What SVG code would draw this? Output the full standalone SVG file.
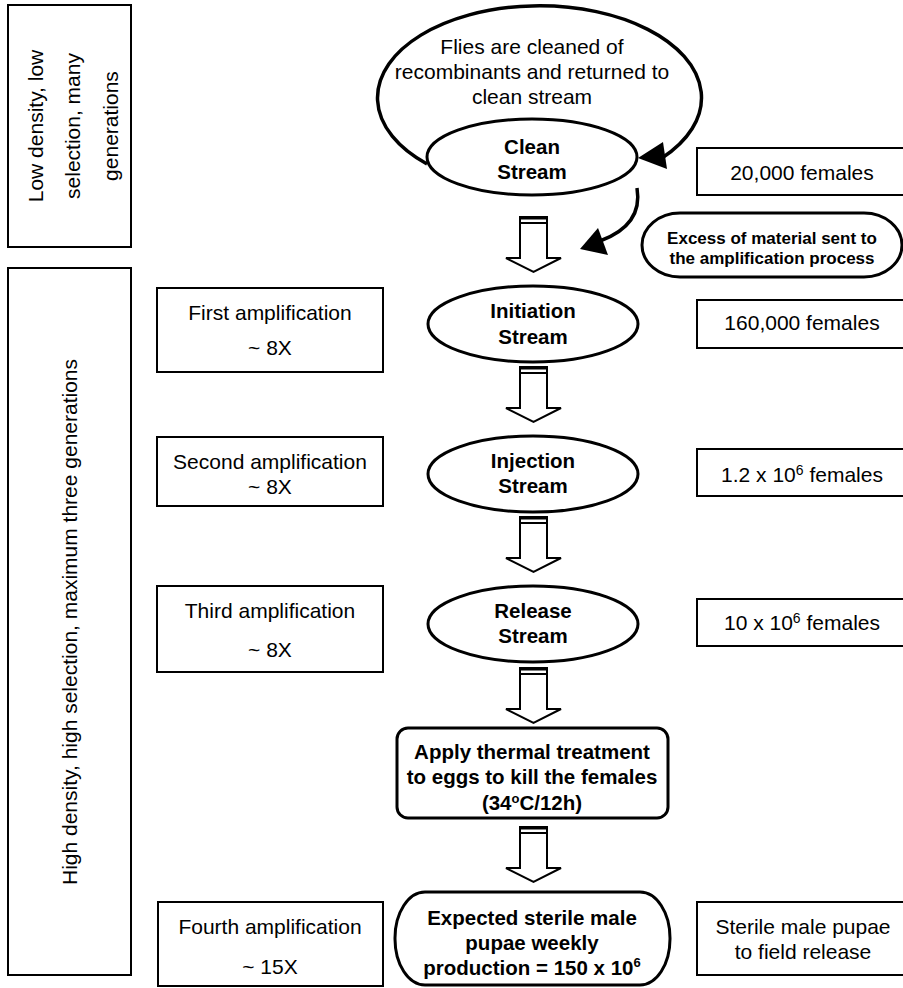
<svg xmlns="http://www.w3.org/2000/svg" xmlns:xlink="http://www.w3.org/1999/xlink" width="903" height="988" viewBox="0 0 903 988">
<style>
text{font-family:"Liberation Sans",Arial,sans-serif;fill:#000;text-anchor:middle}
.r{font-size:21px}
.b{font-size:20.5px;font-weight:bold}
.s{font-size:17px;font-weight:bold}
.box{fill:#fff;stroke:#000;stroke-width:2}
.ov{fill:#fff;stroke:#000;stroke-width:3}
.ln{fill:none;stroke:#000;stroke-width:3.5}
</style>
<defs>
<g id="blk">
<polygon points="0,0 27,0 27,41 41,41 13.5,55 -14,41 0,41" fill="#fff" stroke="#000" stroke-width="2" stroke-linejoin="miter"/>
<line x1="0" y1="1" x2="27" y2="1" stroke="#000" stroke-width="3"/>
<line x1="0" y1="6" x2="27" y2="6" stroke="#000" stroke-width="2"/>
</g>
</defs>
<rect width="903" height="988" fill="#fff"/>

<g id="phase-low">
<rect class="box" x="8" y="5" width="123" height="242"/>
<text class="r" transform="translate(70,126) rotate(-90)"><tspan x="0" y="-27">Low density, low</tspan><tspan x="0" y="10">selection, many</tspan><tspan x="0" y="48">generations</tspan></text>
</g>
<g id="phase-high">
<rect class="box" x="8" y="268" width="123" height="707"/>
<text class="r" transform="translate(77,622) rotate(-90)" x="0" y="0">High density, high selection, maximum three generations</text>
</g>

<g id="connectors">
<path class="ln" d="M 427,164 A 162 92 0 1 1 662,158"/>
<polygon points="638,158 663,142 667,169" fill="#000"/>
<path class="ln" d="M 637,188 C 641,212 630,230 600,241"/>
<polygon points="580,249 598,228 608,255" fill="#000"/>
<use xlink:href="#blk" x="520" y="217"/>
<use xlink:href="#blk" x="520" y="367"/>
<use xlink:href="#blk" x="520" y="517"/>
<use xlink:href="#blk" x="520" y="668"/>
<use xlink:href="#blk" x="520" y="827"/>
</g>

<g id="loop-label">
<text class="r"><tspan x="532" y="54">Flies are cleaned of</tspan><tspan x="532" y="79">recombinants and returned to</tspan><tspan x="532" y="104">clean stream</tspan></text>
</g>

<g id="clean-stream">
<ellipse class="ov" cx="532" cy="157" rx="105" ry="38"/>
<text class="b"><tspan x="532" y="154">Clean</tspan><tspan x="532" y="179">Stream</tspan></text>
</g>
<g id="initiation-stream">
<ellipse class="ov" cx="533" cy="324" rx="105" ry="38"/>
<text class="b"><tspan x="533" y="318">Initiation</tspan><tspan x="533" y="344">Stream</tspan></text>
</g>
<g id="injection-stream">
<ellipse class="ov" cx="533" cy="474" rx="105" ry="38"/>
<text class="b"><tspan x="533" y="468">Injection</tspan><tspan x="533" y="493">Stream</tspan></text>
</g>
<g id="release-stream">
<ellipse class="ov" cx="533" cy="624" rx="105" ry="38"/>
<text class="b"><tspan x="533" y="618">Release</tspan><tspan x="533" y="643">Stream</tspan></text>
</g>
<g id="thermal">
<rect class="ov" x="397" y="728" width="271" height="90" rx="11" ry="11"/>
<text class="b"><tspan x="532" y="759">Apply thermal treatment</tspan><tspan x="532" y="784">to eggs to kill the females</tspan><tspan x="532" y="810">(34<tspan font-size="13" dy="-7">o</tspan><tspan dy="7">C/12h)</tspan></tspan></text>
</g>
<g id="production">
<rect class="ov" x="395" y="892" width="275" height="93" rx="30" ry="46"/>
<text class="b"><tspan x="532" y="925">Expected sterile male</tspan><tspan x="532" y="950">pupae weekly</tspan><tspan x="532" y="975">production = 150 x 10<tspan font-size="13" dy="-8">6</tspan></tspan></text>
</g>
<g id="excess">
<rect class="ov" x="642" y="213" width="260" height="64" rx="38" ry="32"/>
<text class="s"><tspan x="772" y="244">Excess of material sent to</tspan><tspan x="772" y="264">the amplification process</tspan></text>
</g>

<g id="amp1">
<rect class="box" x="157" y="288" width="226" height="84"/>
<text class="r"><tspan x="270" y="320">First amplification</tspan><tspan x="270" y="355">~ 8X</tspan></text>
</g>
<g id="amp2">
<rect class="box" x="157" y="437" width="226" height="69"/>
<text class="r"><tspan x="270" y="469">Second amplification</tspan><tspan x="270" y="494">~ 8X</tspan></text>
</g>
<g id="amp3">
<rect class="box" x="157" y="586" width="226" height="86"/>
<text class="r"><tspan x="270" y="618">Third amplification</tspan><tspan x="270" y="657">~ 8X</tspan></text>
</g>
<g id="amp4">
<rect class="box" x="158" y="902" width="225" height="84"/>
<text class="r"><tspan x="270" y="934">Fourth amplification</tspan><tspan x="270" y="974">~ 15X</tspan></text>
</g>

<g id="count-20000">
<rect class="box" x="697" y="148" width="215" height="47"/>
<text class="r" x="802" y="180">20,000 females</text>
</g>
<g id="count-160000">
<rect class="box" x="697" y="300" width="215" height="48"/>
<text class="r" x="802" y="330">160,000 females</text>
</g>
<g id="count-1-2m">
<rect class="box" x="697" y="449" width="215" height="47"/>
<text class="r" x="802" y="482">1.2 x 10<tspan font-size="14" dy="-7">6</tspan><tspan dy="7"> females</tspan></text>
</g>
<g id="count-10m">
<rect class="box" x="697" y="599" width="215" height="47"/>
<text class="r" x="802" y="630">10 x 10<tspan font-size="14" dy="-7">6</tspan><tspan dy="7"> females</tspan></text>
</g>
<g id="field-release">
<rect class="box" x="697" y="902" width="215" height="73"/>
<text class="r"><tspan x="803" y="934">Sterile male pupae</tspan><tspan x="803" y="959">to field release</tspan></text>
</g>
</svg>
